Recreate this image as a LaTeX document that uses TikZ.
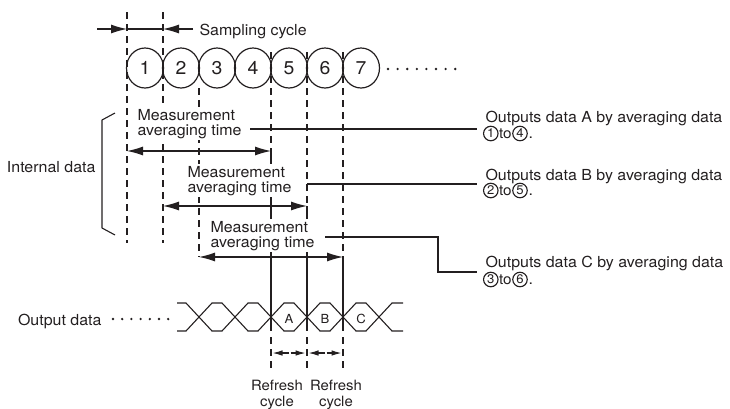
\documentclass[tikz,border=0pt]{standalone}
\usepackage{fontspec}
\setmainfont{TeX Gyre Heros}[FakeStretch=1.05]
\usetikzlibrary{shapes.geometric,arrows.meta}
\definecolor{ink}{HTML}{231F20}
\begin{document}
\begin{tikzpicture}[x=1pt,y=-1pt,line width=1.1pt,draw=ink,
  txt/.style={font=\fontsize{15.2}{15}\selectfont,inner sep=0pt,text=ink},
  totxt/.style={font=\fontsize{14.5}{14}\selectfont,inner sep=0pt,text=ink},
  mtxt/.style={txt,fill=white,inner xsep=1pt,inner ysep=2pt},
  reftxt/.style={font=\fontsize{14.2}{14}\selectfont,inner sep=0pt,text=ink},
  smalltxt/.style={font=\fontsize{12.5}{12}\selectfont,inner sep=0pt,text=ink},
  cn/.style={draw=ink,circle,inner sep=0pt,minimum size=14.5pt,line width=1.15pt,font=\fontsize{12.5}{12}\selectfont,text=ink},
  samp/.style={draw=ink,ellipse,minimum width=37pt,minimum height=40pt,inner sep=0pt,line width=1.2pt,font=\fontsize{18.5}{18}\selectfont,text=ink},
  dsh/.style={dash pattern=on 7pt off 5pt},
  bigtip/.style={-{Latex[length=16pt,width=9pt]}},
  dbltip/.style={{Latex[length=16pt,width=9pt]}-{Latex[length=16pt,width=9pt]}},
  smalltip/.style={-{Latex[length=10pt,width=5.5pt]}},
  dotc/.style={circle,fill=ink,inner sep=0pt,minimum size=2.6pt}]
\useasboundingbox (0,0) rectangle (730,408);

% sampling circles
\foreach \i in {1,...,7}{
  \node[samp] (c\i) at ({145+36*(\i-1)},68) {\i};
}
\foreach \k in {0,...,7}{
  \node[dotc] (td\k) at ({388+9.6*\k},69) {};
}

% vertical reference lines
\coordinate (v1t) at (127,12);  \coordinate (v1b) at (127,243);
\coordinate (v2t) at (163,12);  \coordinate (v2b) at (163,243);
\coordinate (v3t) at (199,88);  \coordinate (v3b) at (199,257);
\coordinate (v5t) at (271,52);  \coordinate (v5m) at (271,151); \coordinate (v5b) at (271,331);
\coordinate (v6t) at (307,52);  \coordinate (v6m) at (307,206); \coordinate (v6b) at (307,331);
\coordinate (v7t) at (343,52);  \coordinate (v7m) at (343,257); \coordinate (v7b) at (343,331);
\draw[dsh] (v1t) -- (v1b);
\draw[dsh] (v2t) -- (v2b);
\draw[dsh] (v3t) -- (v3b);
\draw[dsh] (v5t) -- (v5m); \draw (v5m) -- (v5b);
\draw[dsh] (v6t) -- (v6m); \draw (v6m) -- (v6b);
\draw[dsh] (v7t) -- (v7m); \draw (v7m) -- (v7b);
\foreach \x/\n in {271/5,307/6,343/7}{
  \coordinate (r\n t) at (\x,337); \coordinate (r\n b) at (\x,372);
  \draw[dsh] (r\n t) -- (r\n b);
}

% sampling cycle
\coordinate (sa) at (97,29); \coordinate (sat) at (127,29);
\coordinate (sb) at (193,29); \coordinate (sbt) at (163,29);
\draw[bigtip] (sa) -- (sat);
\draw[bigtip] (sb) -- (sbt);
\draw (sat) -- (sbt);
\node[txt,anchor=base west] (samptxt) at (199,35) {Sampling cycle};

% internal data bracket
\node[txt,anchor=base east] (internal) at (96,172) {Internal data};
\coordinate (br1) at (115,113); \coordinate (br2) at (102,120);
\coordinate (br3) at (102,228); \coordinate (br4) at (115,235);
\draw[line join=round] (br1) -- (br2) -- (br3) -- (br4);

% measurement 1
\node[mtxt,anchor=base west] (m1a) at (136,120) {Measurement};
\node[mtxt,anchor=base west] (m1b) at (136,135) {averaging time};
\coordinate (a1l) at (127,151); \coordinate (a1r) at (271,151);
\draw[dbltip] (a1l) -- (a1r);
\coordinate (l1s) at (250,129); \coordinate (l1e) at (477,129);
\draw (l1s) -- (l1e);

% measurement 2
\node[mtxt,anchor=base west] (m2a) at (186,177) {Measurement};
\node[mtxt,anchor=base west] (m2b) at (186,192) {averaging time};
\coordinate (a2l) at (163,206); \coordinate (a2r) at (307,206);
\draw[dbltip] (a2l) -- (a2r);
\coordinate (l2s) at (307,184); \coordinate (l2e) at (477,184);
\draw (l2s) -- (l2e);

% measurement 3
\node[mtxt,anchor=base west] (m3a) at (209,232) {Measurement};
\node[mtxt,anchor=base west] (m3b) at (209,247) {averaging time};
\coordinate (a3l) at (199,257); \coordinate (a3r) at (343,257);
\draw[dbltip] (a3l) -- (a3r);
\coordinate (l3s) at (325,237); \coordinate (l3k1) at (438,237);
\coordinate (l3k2) at (438,272); \coordinate (l3e) at (477,272);
\draw (l3s) -- (l3k1) -- (l3k2) -- (l3e);

% output descriptions
\node[txt,anchor=base west] (oa1) at (485,122) {Outputs data A by averaging data};
\node[txt,anchor=base west] (ob1) at (485,180) {Outputs data B by averaging data};
\node[txt,anchor=base west] (oc1) at (485,267) {Outputs data C by averaging data};
\foreach \n/\y/\p/\q in {a/133.5/1/4, b/190.5/2/5, c/279.5/3/6}{
  \node[cn] (\n p) at (490.8,\y) {\p};
  \node[totxt,anchor=base] (\n to) at (505.4,\y+4.7) {to};
  \node[cn] (\n q) at (520,\y) {\q};
  \node[txt,anchor=base west] (\n dot) at (528,\y+4.7) {.};
}

% output data waveform
\node[txt,anchor=base east] (outtxt) at (102,325) {Output data};
\foreach \k in {0,...,6}{
  \node[dotc] (od\k) at ({113+9.2*\k},319) {};
}
\draw[line join=miter] (177,303) -- (186,303) -- (212,331) -- (222,331) -- (248,303) -- (258,303) -- (284,331) -- (294,331) -- (320,303) -- (330,303) -- (356,331) -- (366,331) -- (392,303) -- (403,303);
\draw[line join=miter] (177,331) -- (186,331) -- (212,303) -- (222,303) -- (248,331) -- (258,331) -- (284,303) -- (294,303) -- (320,331) -- (330,331) -- (356,303) -- (366,303) -- (392,331) -- (403,331);
\node[smalltxt] (dA) at (289,319) {A};
\node[smalltxt] (dB) at (325,319) {B};
\node[smalltxt] (dC) at (361,319) {C};

% refresh cycle arrows
\foreach \m/\n in {289/1,325/2}{
  \coordinate (rm\n) at (\m,353);
  \coordinate (rl\n) at (\m-16.5,353);
  \coordinate (rr\n) at (\m+16.5,353);
  \coordinate (rm\n b) at (\m+1.5,353);
  \draw[smalltip] (rm\n) -- (rl\n);
  \draw[smalltip] (rm\n b) -- (rr\n);
}
\node[reftxt,anchor=base] (rf1a) at (277,390) {Refresh};
\node[reftxt,anchor=base] (rf1b) at (277,406) {cycle};
\node[reftxt,anchor=base] (rf2a) at (336,390) {Refresh};
\node[reftxt,anchor=base] (rf2b) at (336,406) {cycle};
\end{tikzpicture}
\end{document}
